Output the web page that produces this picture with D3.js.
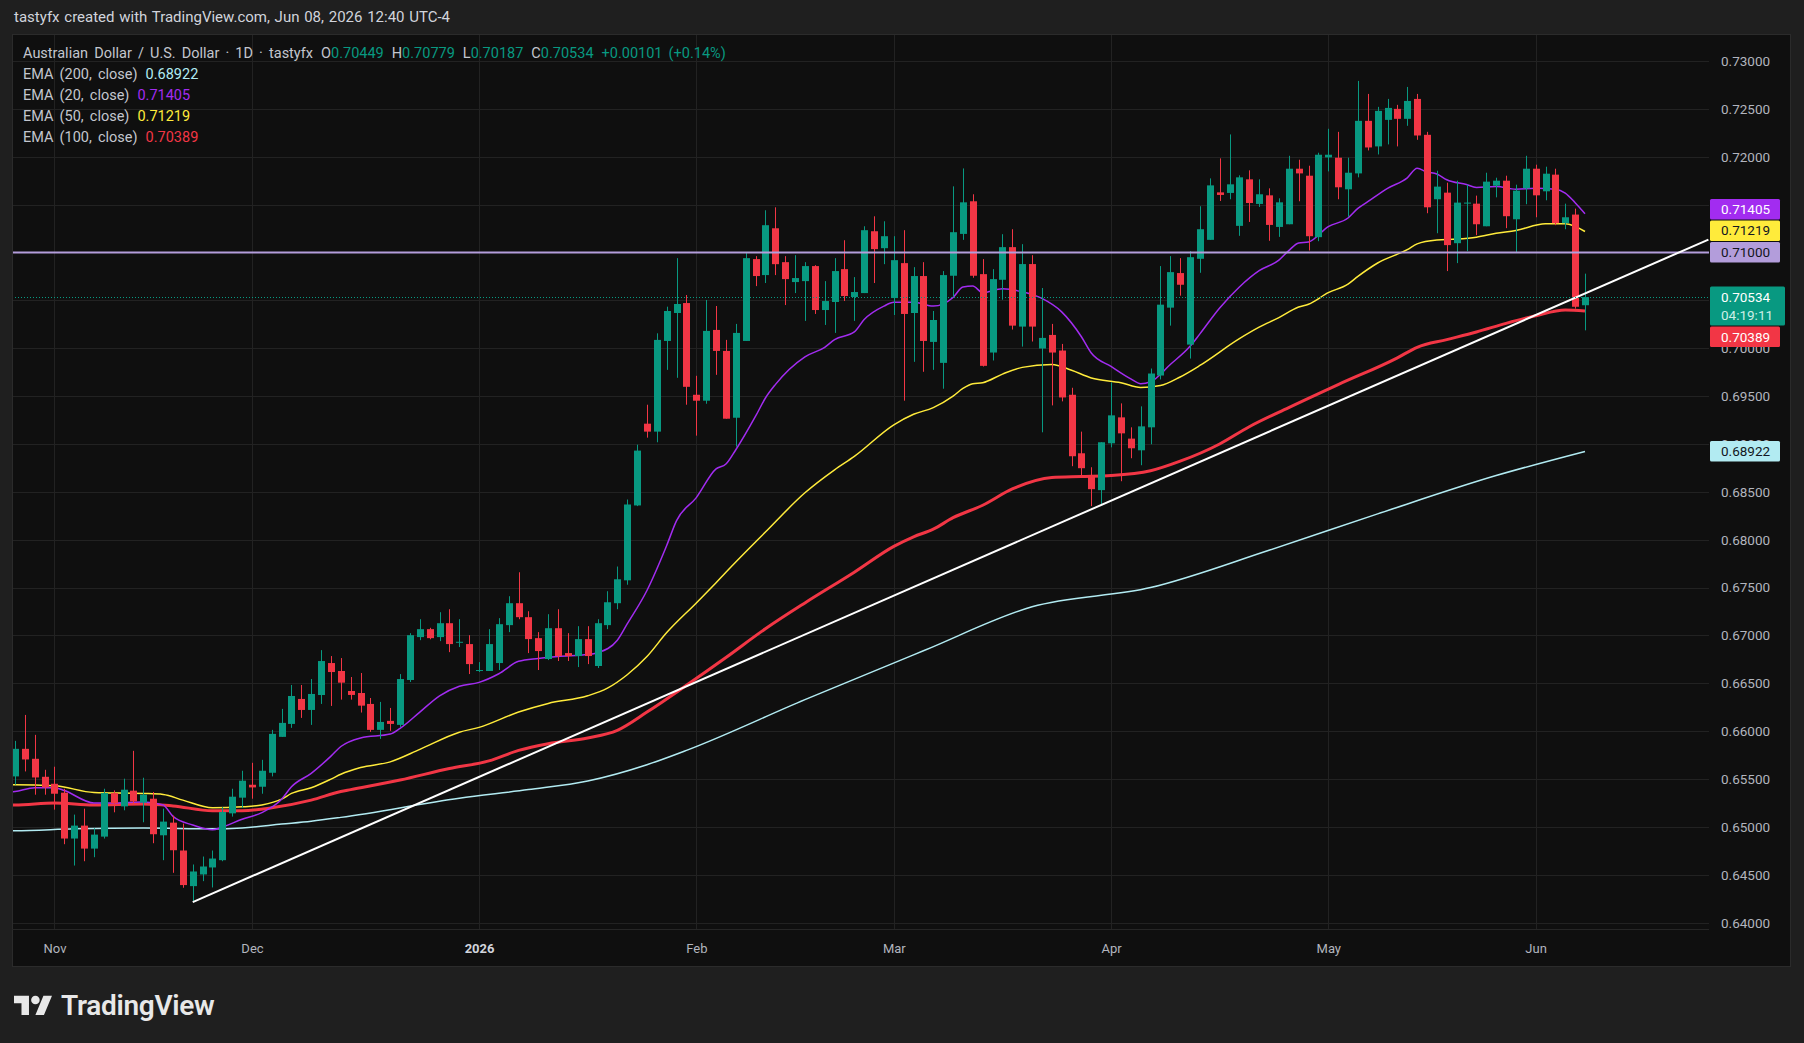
<!DOCTYPE html>
<html>
<head>
<meta charset="utf-8">
<title>AUD/USD 1D</title>
<style>
  html, body { margin: 0; padding: 0; background: #1f1f1f; }
  svg { display: block; }
  text { font-family: Roboto, "Noto Sans", sans-serif; }
</style>
</head>
<body>
<div id="chart"></div>
<script src="https://cdn.jsdelivr.net/npm/d3@7/dist/d3.min.js"></script>
<script>
// ---- data (daily bars, Oct 28 2025 .. Jun 08 2026, weekdays) ----
const dates = d3.utcDay.range(new Date(Date.UTC(2025, 9, 28)), new Date(Date.UTC(2026, 5, 9)))
  .filter(d => d.getUTCDay() !== 0 && d.getUTCDay() !== 6);

const opens = [
  0.65528,0.65816,0.65712,0.65524,0.65451,0.65358,0.64879,0.65014,0.64774,0.64899,
  0.65354,0.65215,0.65379,0.65254,0.65295,0.64913,0.65045,0.64754,0.64382,0.64504,
  0.64577,0.64653,0.65142,0.65306,0.65441,0.65420,0.65566,0.65941,0.66076,0.66337,
  0.66222,0.66378,0.66712,0.66629,0.66420,0.66399,0.66285,0.66014,0.66108,0.66066,
  0.66535,0.66983,0.67066,0.66983,0.67128,0.66927,0.66910,0.66632,0.66629,0.66712,
  0.67108,0.67337,0.67191,0.66972,0.66754,0.67076,0.66816,0.66785,0.66962,0.66681,
  0.67108,0.67337,0.67576,0.68358,0.69212,0.69129,0.70076,0.70368,0.70472,0.69514,
  0.69452,0.70191,0.69972,0.69274,0.70076,0.70931,0.70764,0.71253,0.70899,0.70691,
  0.70701,0.70858,0.70399,0.70483,0.70826,0.70535,0.70576,0.71222,0.71045,0.70524,
  0.70889,0.70368,0.70754,0.70066,0.69847,0.70757,0.71194,0.71535,0.70774,0.69955,
  0.70715,0.71056,0.70226,0.70879,0.69997,0.70139,0.69976,0.69514,0.68903,0.68663,
  0.68518,0.69007,0.69278,0.69056,0.68934,0.69174,0.69715,0.70424,0.70785,0.70038,
  0.70934,0.71132,0.71628,0.71622,0.71278,0.71764,0.71507,0.71597,0.71267,0.71295,
  0.71875,0.71802,0.71160,0.71993,0.71990,0.71660,0.71826,0.72375,0.72108,0.72385,
  0.72500,0.72396,0.72604,0.72229,0.71556,0.71625,0.71097,0.71514,0.71510,0.71274,
  0.71698,0.71750,0.71347,0.71670,0.71875,0.71639,0.71813,0.71306,0.71396,0.70449
];
const highs = [
  0.65899,0.66170,0.65962,0.65597,0.65629,0.65399,0.65129,0.65191,0.64986,0.65399,
  0.65382,0.65504,0.65795,0.65514,0.65365,0.65191,0.65118,0.65035,0.64608,0.64691,
  0.64754,0.65208,0.65399,0.65587,0.65670,0.65701,0.66014,0.66233,0.66483,0.66483,
  0.66545,0.66847,0.66785,0.66764,0.66566,0.66608,0.66347,0.66306,0.66243,0.66597,
  0.67024,0.67170,0.67080,0.67243,0.67274,0.67170,0.67003,0.66722,0.67066,0.67181,
  0.67410,0.67660,0.67253,0.67035,0.67222,0.67274,0.67024,0.67097,0.67097,0.67170,
  0.67462,0.67720,0.68420,0.68993,0.69410,0.70156,0.70434,0.70941,0.70556,0.69712,
  0.70504,0.70441,0.70087,0.70254,0.70993,0.70962,0.71441,0.71472,0.70962,0.70972,
  0.70899,0.70868,0.70701,0.70941,0.71128,0.70743,0.71274,0.71378,0.71326,0.71170,
  0.71233,0.70847,0.70899,0.70389,0.70806,0.71691,0.71878,0.71608,0.70931,0.70826,
  0.71191,0.71243,0.71087,0.70972,0.70629,0.70254,0.70045,0.69587,0.69129,0.68757,
  0.69018,0.69643,0.69424,0.69174,0.69393,0.69788,0.70858,0.70962,0.70941,0.71014,
  0.71483,0.71774,0.71983,0.72233,0.71806,0.71858,0.71764,0.71670,0.71566,0.72010,
  0.71969,0.71906,0.72042,0.72292,0.72260,0.71990,0.72792,0.72656,0.72521,0.72604,
  0.72542,0.72729,0.72656,0.72260,0.71854,0.71729,0.71750,0.71708,0.71594,0.71833,
  0.71781,0.71802,0.71708,0.72010,0.71917,0.71896,0.71875,0.71510,0.71458,0.70779
];
const lows = [
  0.65441,0.65580,0.65337,0.65337,0.65181,0.64820,0.64597,0.64642,0.64684,0.64879,
  0.65153,0.65174,0.65243,0.65049,0.64830,0.64653,0.64521,0.64365,0.64215,0.64434,
  0.64368,0.64642,0.65108,0.65198,0.65295,0.65347,0.65528,0.65941,0.66035,0.66139,
  0.66066,0.66285,0.66264,0.66330,0.66330,0.66195,0.65993,0.65920,0.66004,0.66045,
  0.66514,0.66951,0.66960,0.66941,0.66826,0.66879,0.66597,0.66618,0.66629,0.66639,
  0.67035,0.67170,0.66816,0.66639,0.66743,0.66733,0.66733,0.66670,0.66701,0.66660,
  0.67066,0.67274,0.67530,0.68351,0.69066,0.69018,0.69774,0.69691,0.69410,0.69087,
  0.69420,0.69722,0.69264,0.68972,0.70076,0.70649,0.70681,0.70764,0.70451,0.70576,
  0.70285,0.70358,0.70243,0.70160,0.70493,0.70285,0.70576,0.70681,0.70878,0.70347,
  0.69452,0.69858,0.69754,0.69774,0.69577,0.70538,0.71132,0.70736,0.69809,0.69872,
  0.70507,0.70195,0.70017,0.70070,0.69122,0.69403,0.69445,0.68768,0.68663,0.68351,
  0.68361,0.68965,0.68611,0.68851,0.68778,0.68997,0.69674,0.70236,0.70549,0.69892,
  0.70788,0.71132,0.71538,0.71556,0.71174,0.71319,0.71476,0.71122,0.71163,0.71295,
  0.71535,0.71021,0.71118,0.71847,0.71556,0.71372,0.71785,0.72066,0.72024,0.72129,
  0.72108,0.72323,0.72177,0.71410,0.71201,0.70806,0.70889,0.71014,0.71181,0.71274,
  0.71576,0.71254,0.71004,0.71504,0.71368,0.71545,0.71285,0.71243,0.70413,0.70187
];
const closes = [
  0.65816,0.65705,0.65517,0.65413,0.65347,0.64879,0.65014,0.64774,0.64920,0.65354,
  0.65247,0.65389,0.65267,0.65337,0.64924,0.65056,0.64757,0.64393,0.64535,0.64587,
  0.64670,0.65156,0.65316,0.65483,0.65413,0.65587,0.65972,0.66087,0.66368,0.66222,
  0.66389,0.66733,0.66618,0.66507,0.66379,0.66267,0.66014,0.66097,0.66076,0.66545,
  0.67003,0.67066,0.66972,0.67128,0.66910,0.66934,0.66701,0.66639,0.66910,0.67118,
  0.67337,0.67191,0.66962,0.66837,0.67076,0.66785,0.66785,0.66962,0.66785,0.67128,
  0.67347,0.67587,0.68368,0.68931,0.69129,0.70087,0.70389,0.70462,0.69597,0.69452,
  0.70181,0.69972,0.69264,0.70160,0.70941,0.70754,0.71285,0.70878,0.70722,0.70733,
  0.70858,0.70399,0.70493,0.70806,0.70545,0.70587,0.71233,0.71035,0.71170,0.70920,
  0.70358,0.70754,0.70076,0.70295,0.70764,0.71212,0.71524,0.70757,0.69816,0.70722,
  0.71056,0.70236,0.70879,0.70226,0.70108,0.69955,0.69486,0.68872,0.68747,0.68528,
  0.69018,0.69299,0.69111,0.68955,0.69184,0.69736,0.70455,0.70795,0.70663,0.70951,
  0.71243,0.71701,0.71601,0.71712,0.71785,0.71517,0.71608,0.71288,0.71524,0.71875,
  0.71826,0.71170,0.72021,0.72021,0.71681,0.71833,0.72375,0.72097,0.72479,0.72510,
  0.72396,0.72583,0.72222,0.71472,0.71688,0.71077,0.71521,0.71521,0.71295,0.71740,
  0.71750,0.71379,0.71646,0.71875,0.71597,0.71823,0.71306,0.71368,0.70433,0.70534
];

// EMA readings: [bar index, value]
const ema20Pts = [
  [-1,0.6536],[0,0.6537],[2,0.6541],[4,0.6541],[5,0.6538],[8,0.6525],[10,0.6525],[13,0.6526],[15,0.6523],
  [16,0.6511],[18,0.6502],[20,0.6497],[21,0.6500],[23,0.6508],[25,0.6515],[27,0.6529],[28,0.6542],
  [30,0.6556],[32,0.6574],[33,0.6584],[35,0.6593],[38,0.6597],[39,0.6603],[41,0.6620],[43,0.6637],
  [45,0.6647],[47,0.6651],[49,0.6660],[51,0.6673],[53,0.6676],[55,0.6678],[58,0.6680],[59,0.6682],
  [61,0.6695],[62,0.6712],[64,0.6747],[66,0.6794],[67,0.6820],[69,0.6844],[71,0.6874],[72,0.6879],
  [73,0.6894],[75,0.6929],[76,0.6948],[77,0.6962],[80,0.6991],[82,0.7001],[83,0.7009],[85,0.7017],
  [86,0.7030],[88,0.7044],[89,0.7048],[91,0.7048],[93,0.7044],[95,0.7053],[96,0.7064],[97,0.7065],
  [98,0.7058],[100,0.7062],[102,0.7059],[104,0.7052],[106,0.7038],[108,0.7012],[109,0.6995],
  [111,0.6981],[113,0.6968],[114,0.6963],[115,0.6965],[117,0.6983],[119,0.7002],[120,0.7015],
  [122,0.7042],[124,0.7064],[126,0.7081],[128,0.7092],[129,0.7102],[130,0.7110],[131,0.7111],
  [133,0.7127],[135,0.7136],[136,0.7146],[137,0.7153],[139,0.7167],[141,0.7178],[142,0.7188],
  [143,0.7184],[144,0.7182],[145,0.7176],[147,0.7171],[148,0.7168],[150,0.7169],[152,0.7166],
  [154,0.7167],[156,0.7166],[157,0.7162],[158,0.7152],[159,0.71405]
];
const ema50Pts = [
  [-1,0.6544],[0,0.6544],[4,0.6543],[8,0.6536],[13,0.6535],[15,0.6534],[17,0.6528],[20,0.6520],
  [23,0.6521],[25,0.6523],[27,0.6529],[28,0.6535],[30,0.6541],[32,0.6550],[33,0.6555],[35,0.6562],
  [38,0.6568],[41,0.6581],[45,0.6599],[47,0.6604],[51,0.6620],[54,0.6629],[58,0.6637],[60,0.6645],
  [62,0.6659],[64,0.6678],[66,0.6703],[69,0.6734],[71,0.6755],[72,0.6766],[76,0.6808],[80,0.6849],
  [83,0.6873],[85,0.6887],[89,0.6920],[91,0.6931],[93,0.6938],[95,0.6950],[96,0.6958],[97,0.6963],
  [98,0.6964],[100,0.6973],[102,0.6980],[105,0.6983],[107,0.6977],[109,0.6969],[112,0.6964],
  [114,0.6959],[116,0.6961],[118,0.6970],[120,0.6982],[124,0.7010],[126,0.7022],[128,0.7032],
  [130,0.7043],[131,0.7046],[133,0.7058],[135,0.7067],[136,0.7075],[138,0.7089],[141,0.7103],
  [142,0.7109],[144,0.7113],[146,0.7114],[148,0.7116],[150,0.7120],[152,0.7123],[155,0.7130],
  [157,0.7130],[159,0.71219]
];
const ema100Pts = [
  [-1,0.6523],[0,0.6523],[4,0.6525],[8,0.6523],[13,0.6524],[16,0.6522],[20,0.6517],[23,0.6517],
  [26,0.6520],[30,0.6528],[33,0.6537],[34,0.6539],[39,0.6549],[44,0.6561],[48,0.6569],[51,0.6580],
  [54,0.6587],[58,0.6593],[61,0.6601],[64,0.6620],[68,0.6648],[72,0.6677],[76,0.6707],[80,0.6734],
  [85,0.6766],[89,0.6793],[91,0.6803],[93,0.6811],[95,0.6823],[98,0.6836],[101,0.6853],[105,0.6865],
  [108,0.6866],[111,0.6867],[115,0.6872],[118,0.6882],[122,0.6900],[125,0.6918],[129,0.6938],
  [134,0.6962],[140,0.6990],[142,0.7001],[145,0.7009],[148,0.7017],[151,0.7026],[154,0.7034],
  [157,0.7040],[159,0.70389]
];
const ema200Pts = [
  [-1,0.6496],[0,0.6496],[6,0.6498],[13,0.6499],[20,0.6498],[23,0.6499],[27,0.6503],[30,0.6506],
  [33,0.6510],[45,0.6530],[52,0.6539],[58,0.6548],[64,0.6565],[68,0.6580],[80,0.6633],[92,0.6684],
  [103,0.6730],[115,0.6750],[127,0.6789],[138,0.6827],[150,0.6867],[159,0.68922]
];

const trendStart = [18, 0.64215];      // bar index, price
const trendEnd = [171.5, 0.71135];
const hLevel = 0.71000;

const priceTicks = d3.range(0, 19).map(k => +(0.64 + k * 0.005).toFixed(3));
const monthDates = ["2025-11-03","2025-12-01","2026-01-01","2026-02-02","2026-03-02","2026-04-01","2026-05-01","2026-06-01"];
const monthLabels = ["Nov","Dec","2026","Feb","Mar","Apr","May","Jun"];

// ---- layout ----
const W = 1804, H = 1043;
const pane = { left: 12, right: 1790, top: 34, bottom: 966 };
const plot = { left: 12, right: 1709, top: 34, bottom: 929 };
const UP = "#089981", DOWN = "#f23645";
const C20 = "#a22cf0", C50 = "#ffeb3b", C100 = "#f23645", C200 = "#b2ebf2", CH = "#b39ddb";

const x = d3.scaleLinear().domain([0, dates.length - 1]).range([15, 1585]);
const y = d3.scaleLinear().domain([0.64, 0.73]).range([922.7, 61]);

const svg = d3.select("#chart").append("svg").attr("width", W).attr("height", H);
svg.append("rect").attr("width", W).attr("height", H).attr("fill", "#1f1f1f");
svg.append("rect")
  .attr("x", pane.left + 0.5).attr("y", pane.top + 0.5)
  .attr("width", pane.right - pane.left).attr("height", pane.bottom - pane.top)
  .attr("fill", "#0f0f0f").attr("stroke", "#2b2b2b");

svg.append("defs").append("clipPath").attr("id", "clip")
  .append("rect").attr("x", plot.left + 1).attr("y", plot.top + 1)
  .attr("width", plot.right - plot.left - 1).attr("height", plot.bottom - plot.top - 1);

// grid
const grid = svg.append("g").attr("clip-path", "url(#clip)");
grid.selectAll(".hg").data(priceTicks).join("line")
  .attr("x1", plot.left).attr("x2", plot.right)
  .attr("y1", d => Math.round(y(d)) + 0.5).attr("y2", d => Math.round(y(d)) + 0.5)
  .attr("stroke", "#222222");
const monthIdx = monthDates.map(s => dates.findIndex(d => d.toISOString().slice(0, 10) === s));
grid.selectAll(".vg").data(monthIdx).join("line")
  .attr("x1", d => Math.round(x(d)) + 0.5).attr("x2", d => Math.round(x(d)) + 0.5)
  .attr("y1", plot.top).attr("y2", plot.bottom)
  .attr("stroke", "#222222");

// time axis separator
svg.append("line").attr("x1", plot.left).attr("x2", plot.right)
  .attr("y1", plot.bottom + 0.5).attr("y2", plot.bottom + 0.5).attr("stroke", "#262626");

const chart = svg.append("g").attr("clip-path", "url(#clip)");

// EMA lines
const line = d3.line().x(d => x(d[0])).y(d => y(d[1])).curve(d3.curveMonotoneX);
[[ema200Pts, C200, 1.5], [ema100Pts, C100, 3], [ema50Pts, C50, 1.5], [ema20Pts, C20, 1.5]].forEach(([pts, c, w]) => {
  chart.append("path").datum(pts).attr("d", line)
    .attr("fill", "none").attr("stroke", c).attr("stroke-width", w).attr("stroke-linejoin", "round");
});

// candles
const idx = d3.range(dates.length);
const cg = chart.append("g");
cg.selectAll(".wick").data(idx).join("line")
  .attr("x1", i => Math.round(x(i)) + 0.5).attr("x2", i => Math.round(x(i)) + 0.5)
  .attr("y1", i => y(highs[i])).attr("y2", i => y(lows[i]))
  .attr("stroke", i => closes[i] >= opens[i] ? UP : DOWN).attr("stroke-width", 1);
cg.selectAll(".body").data(idx).join("rect")
  .attr("x", i => Math.round(x(i)) - 3)
  .attr("width", 7)
  .attr("y", i => y(Math.max(opens[i], closes[i])))
  .attr("height", i => Math.max(1, Math.abs(y(opens[i]) - y(closes[i]))))
  .attr("fill", i => closes[i] >= opens[i] ? UP : DOWN);

// horizontal level
chart.append("line").attr("x1", plot.left).attr("x2", plot.right)
  .attr("y1", y(hLevel)).attr("y2", y(hLevel))
  .attr("stroke", CH).attr("stroke-width", 2);

// trend line
chart.append("line")
  .attr("x1", x(trendStart[0])).attr("y1", y(trendStart[1]))
  .attr("x2", x(trendEnd[0])).attr("y2", y(trendEnd[1]))
  .attr("stroke", "#ffffff").attr("stroke-width", 2);

// last price dotted line
const last = dates.length - 1;
chart.append("line").attr("x1", plot.left).attr("x2", plot.right)
  .attr("y1", Math.round(y(closes[last])) + 0.5).attr("y2", Math.round(y(closes[last])) + 0.5)
  .attr("stroke", UP).attr("stroke-dasharray", "1 2");

// price axis
const fmt = d3.format(".5f");
const pAxis = svg.append("g").attr("transform", "translate(1721,0)")
  .call(d3.axisRight(y).tickValues(priceTicks).tickFormat(fmt).tickSize(0).tickPadding(0));
pAxis.select(".domain").remove();
pAxis.selectAll("text").attr("fill", "#b2b5be").attr("font-size", 13.5)
  .attr("font-family", "Roboto, sans-serif");

// time axis
const tAxis = svg.append("g").attr("transform", "translate(0,944)")
  .call(d3.axisBottom(x).tickValues(monthIdx).tickFormat((d, k) => monthLabels[k]).tickSize(0).tickPadding(0));
tAxis.select(".domain").remove();
tAxis.selectAll("text").attr("font-size", 13)
  .attr("font-family", "Roboto, sans-serif")
  .attr("font-weight", (d, k) => monthLabels[k] === "2026" ? "bold" : null)
  .attr("fill", (d, k) => monthLabels[k] === "2026" ? "#d1d4dc" : "#b2b5be");

// price tags
const tags = [
  { v: ema20Pts[ema20Pts.length - 1][1], bg: C20, fg: "#ffffff", h: 20.5, w: 70 },
  { v: ema50Pts[ema50Pts.length - 1][1], bg: C50, fg: "#131722", h: 20.5, w: 70 },
  { v: hLevel, bg: CH, fg: "#131722", h: 20.5, w: 70, fixed: true },
  { v: closes[last], bg: UP, fg: "#ffffff", h: 39, w: 75, fixed: true, sub: "04:19:11" },
  { v: ema100Pts[ema100Pts.length - 1][1], bg: C100, fg: "#ffffff", h: 20.5, w: 70 },
  { v: ema200Pts[ema200Pts.length - 1][1], bg: C200, fg: "#131722", h: 20.5, w: 70 }
];
tags.forEach(t => { t.top = y(t.v) - 10.5; });
tags.sort((a, b) => a.top - b.top);
for (let k = 1; k < tags.length; k++) {
  const p = tags[k - 1], t = tags[k];
  if (!t.fixed && t.top < p.top + p.h + 1) t.top = p.top + p.h + 1;
}
for (let k = tags.length - 2; k >= 0; k--) {
  const n = tags[k + 1], t = tags[k];
  if (!t.fixed && t.top + t.h > n.top - 1) t.top = n.top - 1 - t.h;
}
const tg = svg.append("g");
tags.forEach(t => {
  tg.append("rect").attr("x", 1710).attr("y", t.top).attr("width", t.w).attr("height", t.h)
    .attr("rx", 1.5).attr("fill", t.bg);
  tg.append("text").attr("x", 1721).attr("y", t.top + 10.25).attr("dy", "0.35em")
    .attr("font-size", 13.5).attr("fill", t.fg).text(fmt(t.v));
  if (t.sub) {
    tg.append("text").attr("x", 1721).attr("y", t.top + 28.5).attr("dy", "0.35em")
      .attr("font-size", 13.5).attr("fill", "#cdeee6").text(t.sub);
  }
});

// header
svg.append("text").attr("x", 14).attr("y", 17).attr("dy", "0.35em")
  .attr("font-size", 15).attr("word-spacing", 1).attr("fill", "#d1d4dc")
  .text("tastyfx created with TradingView.com, Jun 08, 2026 12:40 UTC-4");

// legend
const LG = "#c3c6ce";
const chg = closes[last] - closes[last - 1];
const l1 = svg.append("text").attr("x", 23).attr("y", 53).attr("dy", "0.35em")
  .attr("font-size", 14.5).attr("word-spacing", 2.5).attr("fill", LG);
l1.append("tspan").text("Australian Dollar / U.S. Dollar · 1D · tastyfx");
[["O", opens[last]], ["H", highs[last]], ["L", lows[last]], ["C", closes[last]]].forEach(([k, v]) => {
  l1.append("tspan").attr("dx", 8).text(k);
  l1.append("tspan").attr("fill", UP).text(fmt(v));
});
l1.append("tspan").attr("dx", 8).attr("fill", UP)
  .text((chg >= 0 ? "+" : "") + fmt(chg) + " (" + (chg >= 0 ? "+" : "") + d3.format(".2f")(chg / closes[last - 1] * 100) + "%)");

const legendRows = [
  ["EMA (200, close)", ema200Pts, C200],
  ["EMA (20, close)", ema20Pts, C20],
  ["EMA (50, close)", ema50Pts, C50],
  ["EMA (100, close)", ema100Pts, C100]
];
legendRows.forEach(([name, pts, c], k) => {
  const t = svg.append("text").attr("x", 23).attr("y", 74 + k * 21).attr("dy", "0.35em")
    .attr("font-size", 14.5).attr("word-spacing", 2.5).attr("fill", LG);
  t.append("tspan").text(name);
  t.append("tspan").attr("dx", 8).attr("fill", c).text(fmt(pts[pts.length - 1][1]));
});

// TradingView logo
const logo = svg.append("g").attr("transform", "translate(14,991.5) scale(1.07)");
logo.append("path").attr("d", "M14 22H7V11H0V4h14v18zM28 22h-8l7.5-18h8L28 22z").attr("fill", "#e8e8e8");
logo.append("circle").attr("cx", 20).attr("cy", 8).attr("r", 4).attr("fill", "#e8e8e8");
svg.append("text").attr("x", 61).attr("y", 1005).attr("dy", "0.35em")
  .attr("font-size", 28).attr("font-weight", 600).attr("fill", "#e8e8e8")
  .attr("letter-spacing", -0.3).text("TradingView");
</script>
</body>
</html>
